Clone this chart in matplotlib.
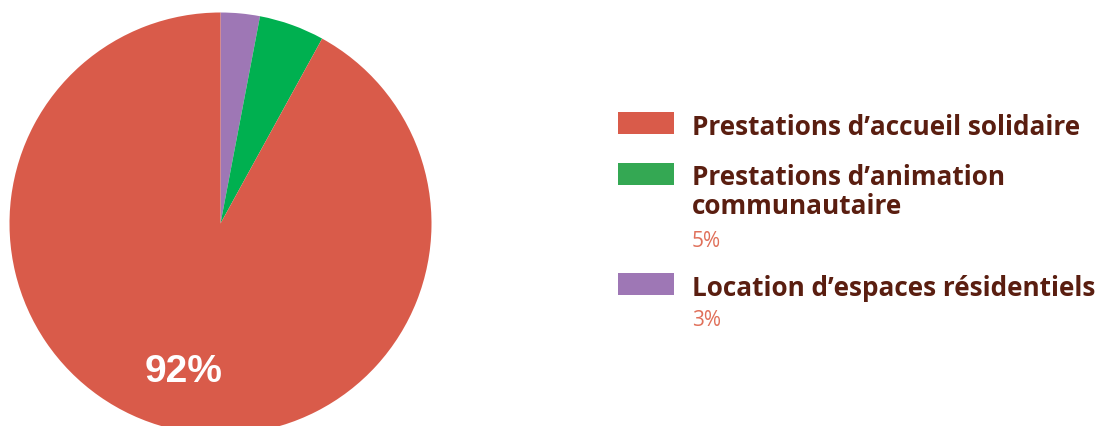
import matplotlib
matplotlib.use("Agg")
import matplotlib.pyplot as plt
from matplotlib.patches import Rectangle

values = [3, 5, 92]
pie_colors = ["#9E77B5", "#00B050", "#D95B4A"]
legend_lines = [["Prestations d\u2019accueil solidaire"],
                ["Prestations d\u2019animation", "communautaire"],
                ["Location d\u2019espaces résidentiels"]]
legend_colors = ["#D95B4A", "#34A853", "#9E77B5"]
legend_pcts = ["", "5%", "3%"]
center_label = "92%"

W, H = 1102, 427
fig = plt.figure(figsize=(W / 100, H / 100), dpi=100)

cx, cy, r = 220.5, 224.5, 211
ax = fig.add_axes([(cx - r) / W, (H - cy - r) / H, 2 * r / W, 2 * r / H])
ax.pie(values, colors=pie_colors, startangle=90, counterclock=False, radius=1,
       wedgeprops=dict(linewidth=0))
ax.set_xlim(-1, 1)
ax.set_ylim(-1, 1)
ax.set_aspect("equal")
ax.axis("off")

def px(x, y):
    return x / W, 1 - y / H

fig.text(*px(184, 382), center_label, color="white", fontsize=28, fontweight="bold",
         family="Liberation Sans", ha="center", va="baseline")

rects = [(618, 113), (618, 164), (618, 274)]
text_base = [[135], [185, 214], [296]]
pct_base = [None, 247, 326]
for i in range(3):
    x0, y0 = rects[i]
    fig.patches.append(Rectangle(px(x0, y0 + 22), 56 / W, 22 / H, transform=fig.transFigure,
                                 facecolor=legend_colors[i], edgecolor="none"))
    for line, yb in zip(legend_lines[i], text_base[i]):
        fig.text(*px(692, yb), line, color="#5A1E10", fontsize=18.8,
                 fontweight="bold", family="Open Sans", ha="left", va="baseline")
    if legend_pcts[i]:
        fig.text(*px(692, pct_base[i]), legend_pcts[i], color="#E0705A", fontsize=15,
                 family="Open Sans", ha="left", va="baseline")

fig.savefig("out.png", dpi=100)
